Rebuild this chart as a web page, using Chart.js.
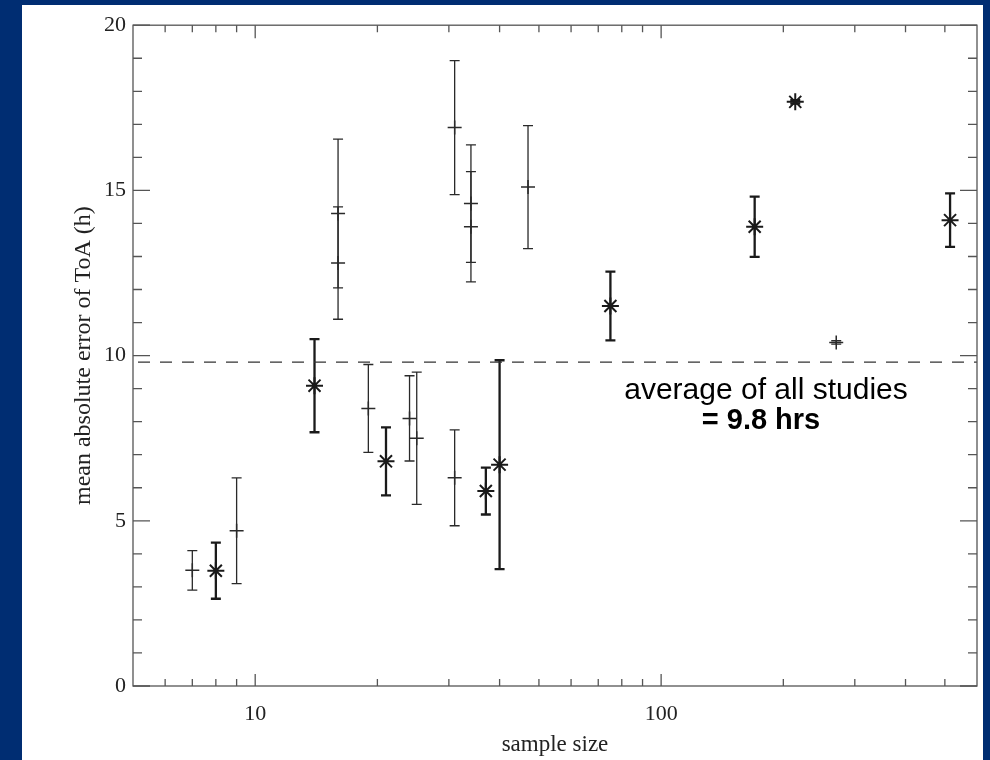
<!DOCTYPE html>
<html>
<head>
<meta charset="utf-8">
<script src="https://cdn.jsdelivr.net/npm/chart.js@4.4.1/dist/chart.umd.min.js"></script>
<style>
  html, body { margin: 0; padding: 0; background: #002d72; }
  body { width: 990px; height: 760px; overflow: hidden; position: relative; }
  #panel { position: absolute; left: 22px; top: 5px; width: 961px; height: 755px; background: #fff; }
  canvas { display: block; }
</style>
</head>
<body>
<div id="panel"><canvas id="chart" width="961" height="755"></canvas></div>
<script>
// studies drawn with "+" and thin error bars
const plusSize  = [7, 9, 16, 16, 19, 24, 25, 31, 31, 34, 34, 47, 270];
const plusMean  = [3.5, 4.7, 14.3, 12.8, 8.4, 8.1, 7.5, 6.3, 16.9, 14.6, 13.9, 15.1, 10.4];
const plusErr   = [0.6, 1.6, 2.25, 1.7, 1.33, 1.29, 2.0, 1.45, 2.03, 1.78, 1.67, 1.86, 0.05];

// studies drawn with "*" and thick error bars
const starSize  = [8, 14, 21, 37, 40, 75, 170, 214, 515];
const starMean  = [3.49, 9.09, 6.8, 5.9, 6.7, 11.5, 13.9, 17.68, 14.1];
const starErr   = [0.85, 1.41, 1.03, 0.71, 3.16, 1.04, 0.91, 0.05, 0.81];

const averageError = 9.8;
const noteLines = ['average of all studies', '= 9.8 hrs'];

const xRange = [5, 600];
const xTicks = [6, 7, 8, 9, 10, 20, 30, 40, 50, 60, 70, 80, 90, 100, 200, 300, 400, 500];
const xLabels = [10, 100];
const yRange = [0, 20];

const serif = '"Liberation Serif", "Times New Roman", serif';
const sans = '"Liberation Sans", Arial, sans-serif';

const toPoints = (xs, ys) => xs.map((v, i) => ({ x: v, y: ys[i] }));

// vertical error bars with caps, drawn under the markers
const errorBars = {
  id: 'errorBars',
  beforeDatasetsDraw(chart) {
    const { ctx, scales: { x, y } } = chart;
    chart.data.datasets.forEach((ds) => {
      if (!ds.errors) return;
      ctx.save();
      ctx.strokeStyle = ds.borderColor;
      ctx.lineWidth = ds.errorWidth;
      ds.data.forEach((p, i) => {
        const px = x.getPixelForValue(p.x);
        const top = y.getPixelForValue(p.y + ds.errors[i]);
        const bot = y.getPixelForValue(p.y - ds.errors[i]);
        ctx.beginPath();
        ctx.moveTo(px, top); ctx.lineTo(px, bot);
        ctx.moveTo(px - 5, top); ctx.lineTo(px + 5, top);
        ctx.moveTo(px - 5, bot); ctx.lineTo(px + 5, bot);
        ctx.stroke();
      });
      ctx.restore();
    });
  }
};

// box frame with inward ticks on all four sides
const frameTicks = {
  id: 'frameTicks',
  afterDraw(chart) {
    const { ctx, chartArea: a, scales: { x, y } } = chart;
    ctx.save();
    ctx.strokeStyle = '#555';
    ctx.lineWidth = 1.3;
    ctx.strokeRect(a.left, a.top, a.right - a.left, a.bottom - a.top);
    ctx.beginPath();
    y.ticks.forEach((t) => {
      const py = y.getPixelForValue(t.value);
      const len = t.value % 5 === 0 ? 17 : 9;
      ctx.moveTo(a.left, py); ctx.lineTo(a.left + len, py);
      ctx.moveTo(a.right, py); ctx.lineTo(a.right - len, py);
    });
    x.ticks.forEach((t) => {
      const px = x.getPixelForValue(t.value);
      const major = xLabels.includes(t.value);
      ctx.moveTo(px, a.bottom); ctx.lineTo(px, a.bottom - (major ? 12 : 7));
      ctx.moveTo(px, a.top); ctx.lineTo(px, a.top + (major ? 13 : 7));
    });
    ctx.stroke();
    ctx.restore();
  }
};

const note = {
  id: 'note',
  afterDraw(chart) {
    const { ctx, scales: { y } } = chart;
    const base = y.getPixelForValue(averageError);
    ctx.save();
    ctx.fillStyle = '#000';
    ctx.textAlign = 'center';
    ctx.textBaseline = 'middle';
    ctx.font = '30px ' + sans;
    ctx.fillText(noteLines[0], 744, base + 29);
    ctx.font = 'bold 29px ' + sans;
    ctx.fillText(noteLines[1], 739, base + 59);
    ctx.restore();
  }
};

new Chart(document.getElementById('chart'), {
  type: 'scatter',
  data: {
    datasets: [
      {
        data: [{ x: xRange[0], y: averageError }, { x: xRange[1], y: averageError }],
        showLine: true,
        borderColor: '#333',
        borderWidth: 1.3,
        borderDash: [12, 10],
        borderDashOffset: -5,
        pointRadius: 0,
      },
      {
        data: toPoints(plusSize, plusMean),
        errors: plusErr,
        errorWidth: 1.3,
        pointStyle: 'cross',
        pointRadius: 7,
        borderColor: '#2a2a2a',
        borderWidth: 1.5,
      },
      {
        data: toPoints(starSize, starMean),
        errors: starErr,
        errorWidth: 2.3,
        pointStyle: 'star',
        pointRadius: 8.5,
        borderColor: '#1a1a1a',
        borderWidth: 2,
      },
    ],
  },
  options: {
    responsive: false,
    animation: false,
    events: [],
    layout: { autoPadding: false, padding: { top: 19, right: 6, left: 0, bottom: 0 } },
    plugins: { legend: { display: false }, tooltip: { enabled: false } },
    scales: {
      x: {
        type: 'logarithmic',
        min: xRange[0],
        max: xRange[1],
        grid: { display: false, drawTicks: false },
        border: { display: false },
        afterBuildTicks: (s) => { s.ticks = xTicks.map((v) => ({ value: v })); },
        afterFit: (s) => { s.height = 74; },
        ticks: {
          autoSkip: false,
          maxRotation: 0,
          padding: 15,
          color: '#222',
          font: { family: serif, size: 22 },
          callback: (v) => (xLabels.includes(v) ? String(v) : ''),
        },
        title: {
          display: true,
          text: 'sample size',
          color: '#222',
          font: { family: serif, size: 23 },
          padding: { top: 0, bottom: 1 },
        },
      },
      y: {
        min: yRange[0],
        max: yRange[1],
        grid: { display: false, drawTicks: false },
        border: { display: false },
        afterFit: (s) => { s.width = 111; },
        ticks: {
          stepSize: 1,
          autoSkip: false,
          padding: 7,
          color: '#222',
          font: { family: serif, size: 22 },
          callback: (v) => (v % 5 === 0 ? String(v) : ''),
        },
        title: {
          display: true,
          text: 'mean absolute error of ToA (h)',
          color: '#222',
          font: { family: serif, size: 24 },
          padding: { top: 47, bottom: 0 },
        },
      },
    },
  },
  plugins: [errorBars, frameTicks, note],
});
</script>
</body>
</html>
